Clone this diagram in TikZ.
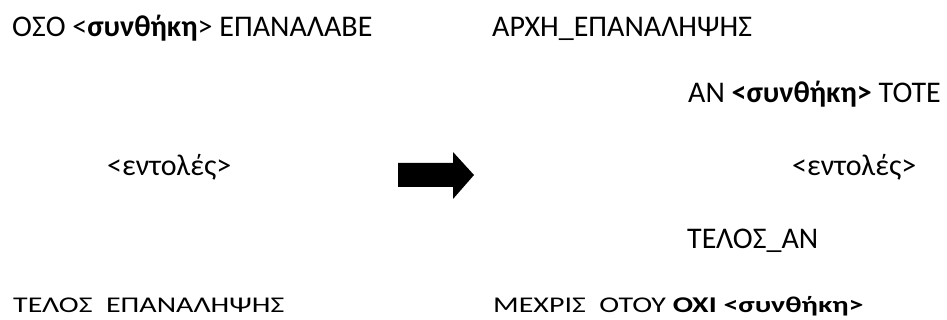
\documentclass[tikz,border=0pt]{standalone}
\usepackage{fontspec}
\setmainfont{Carlito}
\usepackage{graphicx}
\begin{document}
\begin{tikzpicture}[x=1pt,y=-1pt,
  txt/.style={anchor=base west,inner sep=0pt,font=\fontsize{30}{34}\selectfont},
  flat/.style={txt}]
\useasboundingbox (0,0) rectangle (947,320);
\node[txt] (oso) at (12,37) {ΟΣΟ <\textbf{συνθήκη}> ΕΠΑΝΑΛΑΒΕ};
\node[txt] (entL) at (107,176) {<εντολές>};
\node[flat] (telosep) at (13,312) {\scalebox{1}[0.75]{ΤΕΛΟΣ\ \ ΕΠΑΝΑΛΗΨΗΣ}};

\node[txt] (arxh) at (492,37) {ΑΡΧΗ\_ΕΠΑΝΑΛΗΨΗΣ};
\node[txt] (an) at (688,103) {ΑΝ \textbf{<συνθήκη>} ΤΟΤΕ};
\node[txt] (entR) at (792,176) {<εντολές>};
\node[txt] (telosan) at (687,249) {ΤΕΛΟΣ\_ΑΝ};
\node[flat] (mexris) at (493,312) {\scalebox{1}[0.75]{ΜΕΧΡΙΣ\ \ ΟΤΟΥ \textbf{ΟΧΙ <συνθήκη>}}};

\fill (398,163) -- (453,163) -- (453,152) -- (474,175) -- (453,199) -- (453,187) -- (398,187) -- cycle;
\end{tikzpicture}
\end{document}
